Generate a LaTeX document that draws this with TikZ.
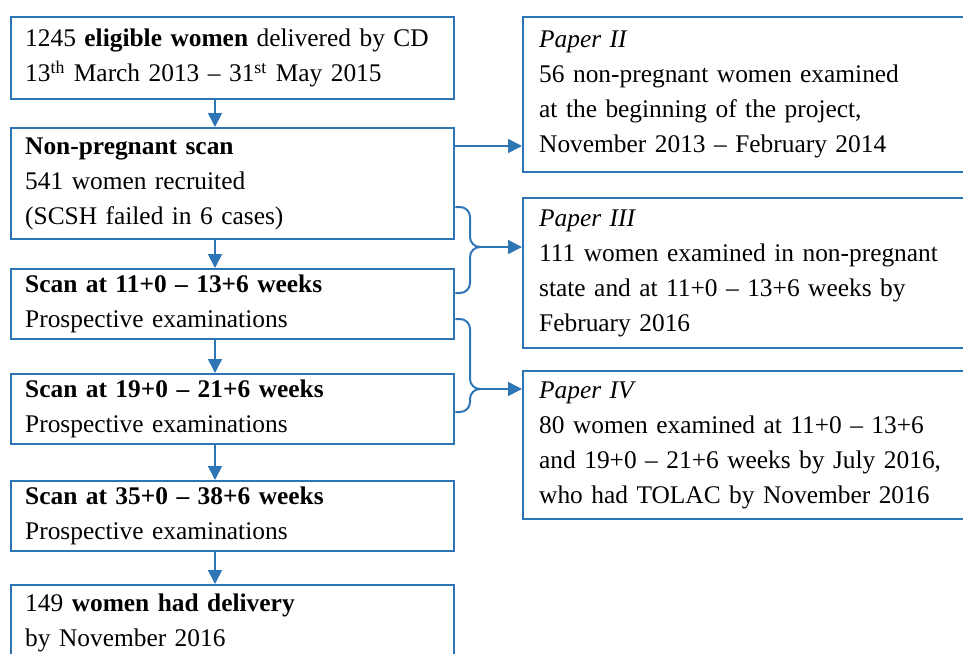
\documentclass[tikz,border=0pt]{standalone}
\usepackage{fontspec}
\setmainfont{Liberation Serif}
\usetikzlibrary{arrows.meta}
\definecolor{flowblue}{RGB}{46,117,182}

\tikzset{
  stage/.style={draw=flowblue, line width=1.2pt, anchor=north west, text width=207.5pt,
    inner xsep=7pt, inner ysep=0pt, align=left, font=\fontsize{12.7}{17.5}\selectfont},
  paper/.style={stage, text width=215pt, inner xsep=8pt},
  link/.style={draw=flowblue, line width=0.8pt, -{Triangle[length=7pt,width=7pt]}},
  bracket/.style={draw=flowblue, line width=1pt, rounded corners=5pt},
}

\begin{document}
\begin{tikzpicture}[x=0.5pt, y=-0.5pt]
\useasboundingbox (0,0) rectangle (963,653);
\clip (0,0) rectangle (963,653);

\node[stage, minimum height=41pt] (eligible) at (10,16)
  {1245 \textbf{eligible women} delivered by CD\\13\textsuperscript{th} March 2013 -- 31\textsuperscript{st} May 2015};
\node[stage, minimum height=55.5pt] (nonpreg) at (10,127)
  {\textbf{Non-pregnant scan}\\541 women recruited\\(SCSH failed in 6 cases)};
\node[stage, minimum height=35pt] (scanA) at (10,268)
  {\textbf{Scan at 11+0 -- 13+6 weeks}\\Prospective examinations};
\node[stage, minimum height=35pt] (scanB) at (10,373)
  {\textbf{Scan at 19+0 -- 21+6 weeks}\\Prospective examinations};
\node[stage, minimum height=35pt] (scanC) at (10,480)
  {\textbf{Scan at 35+0 -- 38+6 weeks}\\Prospective examinations};
\node[stage, minimum height=38pt] (delivery) at (10,584)
  {149 \textbf{women had delivery}\\by November 2016};

\node[paper, minimum height=77.5pt] (paperII) at (522,16)
  {\textit{Paper II}\\56 non-pregnant women examined\\at the beginning of the project,\\November 2013 -- February 2014};
\node[paper, minimum height=75pt] (paperIII) at (522,197)
  {\textit{Paper III}\\111 women examined in non-pregnant\\state and at 11+0 -- 13+6 weeks by\\February 2016};
\node[paper, minimum height=74pt] (paperIV) at (522,370)
  {\textit{Paper IV}\\80 women examined at 11+0 -- 13+6\\and 19+0 -- 21+6 weeks by July 2016,\\who had TOLAC by November 2016};

\draw[link] (eligible.south -| 215,0) -- (nonpreg.north -| 215,0);
\draw[link] (nonpreg.south -| 215,0) -- (scanA.north -| 215,0);
\draw[link] (scanA.south -| 215,0) -- (scanB.north -| 215,0);
\draw[link] (scanB.south -| 215,0) -- (scanC.north -| 215,0);
\draw[link] (scanC.south -| 215,0) -- (delivery.north -| 215,0);

\draw[link] (nonpreg.east |- 0,146) -- (paperII.west |- 0,146);

\coordinate (topIII) at (nonpreg.east |- 0,207);
\coordinate (botIII) at (scanA.east |- 0,293);
\coordinate (tipIII) at (480,247);
\draw[bracket] (topIII) -- (470,207) -- (470,247) -- (tipIII);
\draw[bracket] (botIII) -- (470,293) -- (470,247) -- (tipIII);
\draw[link] (tipIII) -- (tipIII -| paperIII.west);

\coordinate (topIV) at (scanA.east |- 0,319);
\coordinate (botIV) at (scanB.east |- 0,412);
\coordinate (tipIV) at (480,389);
\draw[bracket] (topIV) -- (470,319) -- (470,389) -- (tipIV);
\draw[bracket] (botIV) -- (470,412) -- (470,389) -- (tipIV);
\draw[link] (tipIV) -- (tipIV -| paperIV.west);
\end{tikzpicture}
\end{document}
